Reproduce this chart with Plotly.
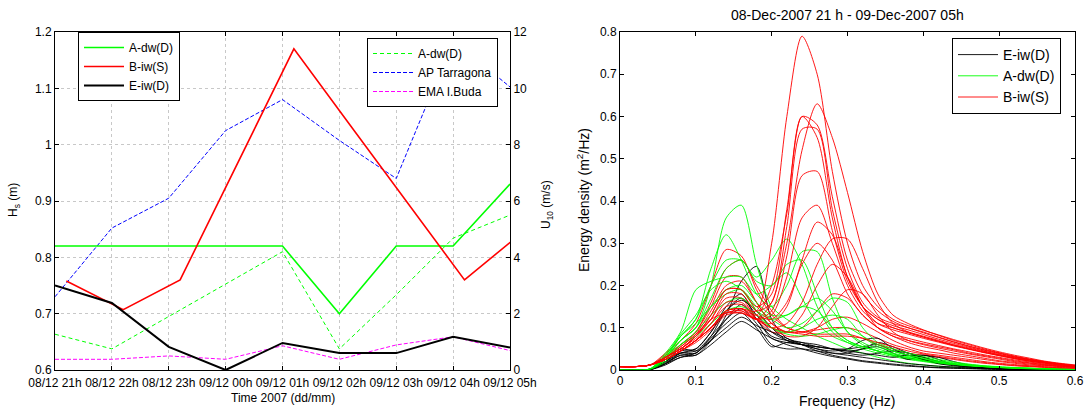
import plotly.graph_objects as go

# ---------------- Left panel data ----------------
HOURS = [0, 1, 2, 3, 4, 5, 6, 7, 8]
TIME_LABELS = ["08/12 21h", "08/12 22h", "08/12 23h", "09/12 00h", "09/12 01h",
               "09/12 02h", "09/12 03h", "09/12 04h", "09/12 05h"]
A_HS = [0.82, 0.82, 0.82, 0.82, 0.82, 0.70, 0.82, 0.82, 0.93]
B_TIME = [0.2, 1.2, 2.2, 3.2, 4.2, 5.2, 6.2, 7.2, 8.2]
B_HS = [0.758, 0.707, 0.76, 0.965, 1.17, 1.033, 0.897, 0.76, 0.843]
E_HS = [0.75, 0.719, 0.641, 0.60, 0.648, 0.63, 0.63, 0.659, 0.64]
A_U10 = [1.27, 0.75, 1.9, 3.05, 4.2, 0.75, 2.67, 4.68, 5.5]
AP_U10 = [2.6, 5.04, 6.1, 8.5, 9.6, 8.15, 6.8, 11.7, 10.05]
EMA_U10 = [0.38, 0.38, 0.5, 0.38, 0.86, 0.38, 0.89, 1.18, 0.69]

# ---------------- Right panel data ----------------
FREQ = [0.0, 0.02, 0.04, 0.06, 0.08, 0.10, 0.12, 0.14, 0.16, 0.18, 0.20, 0.22, 0.24,
        0.26, 0.28, 0.30, 0.32, 0.34, 0.36, 0.38, 0.40, 0.42, 0.44, 0.46, 0.48, 0.50,
        0.52, 0.54, 0.56, 0.58, 0.60]

SPEC_E = [
    [0, 0, 0.002, 0.015, 0.035, 0.035, 0.07, 0.13, 0.21, 0.245, 0.12, 0.075, 0.065, 0.055, 0.05, 0.05, 0.055, 0.06, 0.045, 0.035, 0.025, 0.018, 0.012, 0.008, 0.006, 0.004, 0.003, 0.002, 0.001, 0.001, 0],
    [0, 0, 0.002, 0.02, 0.045, 0.05, 0.09, 0.15, 0.18, 0.12, 0.08, 0.07, 0.065, 0.06, 0.05, 0.045, 0.05, 0.065, 0.055, 0.04, 0.03, 0.02, 0.014, 0.01, 0.007, 0.005, 0.003, 0.002, 0.001, 0.001, 0],
    [0, 0, 0.002, 0.025, 0.04, 0.04, 0.08, 0.14, 0.17, 0.13, 0.09, 0.07, 0.06, 0.05, 0.045, 0.05, 0.07, 0.075, 0.05, 0.035, 0.035, 0.03, 0.02, 0.012, 0.008, 0.005, 0.003, 0.002, 0.001, 0.001, 0],
    [0, 0, 0.001, 0.02, 0.05, 0.045, 0.07, 0.12, 0.155, 0.12, 0.075, 0.065, 0.06, 0.055, 0.05, 0.04, 0.035, 0.04, 0.045, 0.04, 0.03, 0.02, 0.014, 0.009, 0.006, 0.004, 0.003, 0.002, 0.001, 0, 0],
    [0, 0, 0.001, 0.015, 0.04, 0.045, 0.08, 0.12, 0.145, 0.11, 0.06, 0.05, 0.05, 0.045, 0.04, 0.04, 0.05, 0.055, 0.04, 0.025, 0.035, 0.025, 0.012, 0.007, 0.005, 0.003, 0.002, 0.001, 0.001, 0, 0],
    [0, 0, 0.001, 0.018, 0.035, 0.04, 0.075, 0.11, 0.135, 0.1, 0.055, 0.065, 0.06, 0.05, 0.04, 0.035, 0.03, 0.025, 0.02, 0.015, 0.012, 0.009, 0.007, 0.005, 0.004, 0.003, 0.002, 0.001, 0.001, 0, 0],
    [0, 0, 0.001, 0.015, 0.03, 0.04, 0.07, 0.1, 0.125, 0.105, 0.09, 0.075, 0.06, 0.045, 0.035, 0.028, 0.022, 0.018, 0.014, 0.011, 0.008, 0.006, 0.005, 0.004, 0.003, 0.002, 0.001, 0.001, 0, 0, 0],
    [0, 0, 0.002, 0.02, 0.04, 0.05, 0.09, 0.14, 0.165, 0.14, 0.1, 0.07, 0.06, 0.055, 0.05, 0.045, 0.04, 0.035, 0.03, 0.035, 0.025, 0.015, 0.01, 0.007, 0.005, 0.003, 0.002, 0.001, 0.001, 0, 0],
    [0, 0, 0.001, 0.012, 0.03, 0.035, 0.06, 0.09, 0.115, 0.095, 0.075, 0.06, 0.05, 0.04, 0.032, 0.026, 0.02, 0.016, 0.012, 0.009, 0.007, 0.005, 0.004, 0.003, 0.002, 0.001, 0.001, 0, 0, 0, 0],
]

SPEC_A = [
    [0, 0, 0.002, 0.03, 0.07, 0.1, 0.2, 0.36, 0.39, 0.25, 0.15, 0.12, 0.1, 0.08, 0.065, 0.05, 0.04, 0.03, 0.022, 0.016, 0.012, 0.009, 0.007, 0.005, 0.004, 0.003, 0.002, 0.002, 0.001, 0.001, 0.001],
    [0, 0, 0.002, 0.035, 0.08, 0.12, 0.24, 0.32, 0.26, 0.18, 0.15, 0.2, 0.28, 0.28, 0.17, 0.09, 0.06, 0.045, 0.035, 0.028, 0.022, 0.017, 0.013, 0.01, 0.008, 0.006, 0.005, 0.004, 0.003, 0.002, 0.002],
    [0, 0, 0.002, 0.03, 0.08, 0.12, 0.2, 0.26, 0.26, 0.22, 0.26, 0.31, 0.25, 0.15, 0.09, 0.065, 0.05, 0.04, 0.032, 0.025, 0.02, 0.015, 0.012, 0.009, 0.007, 0.005, 0.004, 0.003, 0.002, 0.002, 0.001],
    [0, 0, 0.002, 0.025, 0.07, 0.1, 0.17, 0.24, 0.26, 0.21, 0.2, 0.25, 0.26, 0.18, 0.1, 0.07, 0.055, 0.045, 0.035, 0.028, 0.022, 0.017, 0.013, 0.01, 0.008, 0.006, 0.004, 0.003, 0.002, 0.002, 0.001],
    [0, 0, 0.003, 0.04, 0.09, 0.19, 0.21, 0.22, 0.22, 0.18, 0.2, 0.23, 0.17, 0.11, 0.08, 0.065, 0.055, 0.045, 0.038, 0.03, 0.024, 0.018, 0.014, 0.011, 0.008, 0.006, 0.005, 0.004, 0.003, 0.002, 0.001],
    [0, 0, 0.002, 0.03, 0.07, 0.1, 0.15, 0.19, 0.2, 0.16, 0.13, 0.13, 0.15, 0.17, 0.14, 0.09, 0.065, 0.05, 0.04, 0.032, 0.025, 0.019, 0.015, 0.011, 0.008, 0.006, 0.005, 0.004, 0.003, 0.002, 0.001],
    [0, 0, 0.002, 0.03, 0.08, 0.11, 0.15, 0.18, 0.19, 0.15, 0.12, 0.1, 0.11, 0.14, 0.17, 0.16, 0.1, 0.065, 0.05, 0.04, 0.032, 0.025, 0.019, 0.014, 0.01, 0.008, 0.006, 0.004, 0.003, 0.002, 0.001],
    [0, 0, 0.002, 0.025, 0.06, 0.09, 0.13, 0.16, 0.17, 0.14, 0.12, 0.13, 0.15, 0.14, 0.1, 0.07, 0.055, 0.045, 0.035, 0.028, 0.022, 0.017, 0.013, 0.01, 0.008, 0.006, 0.004, 0.003, 0.002, 0.002, 0.001],
    [0, 0, 0.002, 0.02, 0.06, 0.08, 0.11, 0.14, 0.15, 0.13, 0.1, 0.09, 0.1, 0.12, 0.13, 0.12, 0.08, 0.055, 0.045, 0.035, 0.027, 0.02, 0.015, 0.011, 0.008, 0.006, 0.004, 0.003, 0.002, 0.002, 0.001],
    [0, 0, 0.003, 0.035, 0.085, 0.13, 0.19, 0.21, 0.19, 0.14, 0.1, 0.085, 0.08, 0.085, 0.095, 0.1, 0.08, 0.06, 0.045, 0.035, 0.028, 0.022, 0.017, 0.013, 0.01, 0.007, 0.005, 0.004, 0.003, 0.002, 0.001],
]

SPEC_B = [
    [0.008, 0.008, 0.012, 0.04, 0.07, 0.11, 0.2, 0.285, 0.27, 0.19, 0.13, 0.1, 0.09, 0.085, 0.085, 0.085, 0.075, 0.06, 0.05, 0.04, 0.035, 0.03, 0.025, 0.02, 0.016, 0.013, 0.01, 0.008, 0.006, 0.005, 0.004],
    [0.008, 0.008, 0.012, 0.035, 0.06, 0.09, 0.16, 0.24, 0.26, 0.2, 0.14, 0.1, 0.09, 0.095, 0.1, 0.1, 0.09, 0.075, 0.06, 0.05, 0.04, 0.035, 0.03, 0.025, 0.02, 0.016, 0.013, 0.01, 0.008, 0.006, 0.005],
    [0.008, 0.008, 0.012, 0.03, 0.06, 0.09, 0.15, 0.22, 0.22, 0.16, 0.11, 0.09, 0.09, 0.1, 0.12, 0.125, 0.11, 0.09, 0.07, 0.055, 0.045, 0.04, 0.035, 0.03, 0.025, 0.02, 0.016, 0.012, 0.01, 0.008, 0.006],
    [0.008, 0.008, 0.012, 0.03, 0.055, 0.085, 0.14, 0.2, 0.21, 0.16, 0.11, 0.09, 0.1, 0.14, 0.18, 0.17, 0.13, 0.1, 0.08, 0.065, 0.055, 0.048, 0.04, 0.034, 0.028, 0.022, 0.018, 0.014, 0.011, 0.009, 0.007],
    [0.008, 0.008, 0.012, 0.03, 0.05, 0.08, 0.13, 0.19, 0.19, 0.14, 0.1, 0.08, 0.08, 0.1, 0.15, 0.19, 0.18, 0.13, 0.09, 0.07, 0.06, 0.052, 0.045, 0.038, 0.032, 0.026, 0.02, 0.016, 0.012, 0.009, 0.007],
    [0.008, 0.008, 0.012, 0.03, 0.05, 0.08, 0.12, 0.17, 0.17, 0.12, 0.09, 0.09, 0.13, 0.2, 0.25, 0.22, 0.15, 0.1, 0.08, 0.07, 0.062, 0.055, 0.048, 0.04, 0.034, 0.028, 0.022, 0.017, 0.013, 0.01, 0.008],
    [0.008, 0.008, 0.012, 0.025, 0.045, 0.07, 0.11, 0.15, 0.155, 0.12, 0.1, 0.11, 0.16, 0.25, 0.31, 0.31, 0.24, 0.16, 0.11, 0.09, 0.078, 0.068, 0.058, 0.05, 0.042, 0.034, 0.027, 0.021, 0.016, 0.012, 0.009],
    [0.008, 0.008, 0.012, 0.025, 0.045, 0.07, 0.1, 0.14, 0.145, 0.12, 0.11, 0.15, 0.26, 0.35, 0.32, 0.22, 0.15, 0.11, 0.095, 0.085, 0.075, 0.066, 0.057, 0.049, 0.041, 0.034, 0.027, 0.021, 0.016, 0.012, 0.009],
    [0.008, 0.008, 0.012, 0.025, 0.045, 0.07, 0.1, 0.135, 0.14, 0.12, 0.13, 0.22, 0.36, 0.39, 0.3, 0.2, 0.14, 0.11, 0.1, 0.088, 0.078, 0.068, 0.059, 0.05, 0.042, 0.035, 0.028, 0.022, 0.017, 0.013, 0.01],
    [0.008, 0.008, 0.012, 0.025, 0.045, 0.065, 0.095, 0.13, 0.135, 0.12, 0.14, 0.27, 0.46, 0.47, 0.33, 0.21, 0.15, 0.12, 0.1, 0.09, 0.08, 0.07, 0.06, 0.052, 0.044, 0.036, 0.029, 0.023, 0.018, 0.014, 0.01],
    [0.008, 0.008, 0.012, 0.03, 0.05, 0.08, 0.12, 0.18, 0.18, 0.14, 0.16, 0.34, 0.57, 0.57, 0.38, 0.24, 0.16, 0.125, 0.11, 0.1, 0.088, 0.077, 0.066, 0.056, 0.047, 0.039, 0.031, 0.025, 0.019, 0.014, 0.01],
    [0.008, 0.008, 0.012, 0.03, 0.05, 0.08, 0.13, 0.19, 0.19, 0.15, 0.18, 0.38, 0.6, 0.55, 0.36, 0.22, 0.15, 0.12, 0.105, 0.095, 0.084, 0.073, 0.063, 0.054, 0.045, 0.037, 0.03, 0.024, 0.018, 0.014, 0.01],
    [0.008, 0.008, 0.012, 0.025, 0.045, 0.07, 0.1, 0.14, 0.145, 0.13, 0.2, 0.37, 0.6, 0.58, 0.41, 0.26, 0.18, 0.14, 0.115, 0.1, 0.09, 0.078, 0.067, 0.057, 0.048, 0.04, 0.032, 0.025, 0.019, 0.014, 0.01],
    [0.008, 0.008, 0.012, 0.025, 0.045, 0.07, 0.1, 0.135, 0.14, 0.12, 0.16, 0.3, 0.52, 0.63, 0.55, 0.42, 0.28, 0.18, 0.13, 0.11, 0.095, 0.082, 0.07, 0.06, 0.05, 0.041, 0.033, 0.026, 0.02, 0.015, 0.011],
    [0.008, 0.008, 0.012, 0.025, 0.045, 0.07, 0.1, 0.14, 0.145, 0.14, 0.3, 0.6, 0.79, 0.7, 0.47, 0.3, 0.2, 0.15, 0.12, 0.105, 0.094, 0.083, 0.072, 0.062, 0.052, 0.043, 0.035, 0.028, 0.021, 0.016, 0.012],
    [0.008, 0.008, 0.012, 0.03, 0.055, 0.085, 0.12, 0.135, 0.135, 0.12, 0.1, 0.09, 0.085, 0.08, 0.08, 0.08, 0.075, 0.065, 0.055, 0.045, 0.038, 0.032, 0.027, 0.022, 0.018, 0.014, 0.011, 0.009, 0.007, 0.005, 0.004],
    [0.008, 0.008, 0.012, 0.03, 0.05, 0.075, 0.11, 0.16, 0.16, 0.13, 0.12, 0.16, 0.25, 0.3, 0.26, 0.18, 0.13, 0.1, 0.085, 0.075, 0.066, 0.058, 0.05, 0.043, 0.036, 0.03, 0.024, 0.019, 0.014, 0.011, 0.008],
]

FONT = "Liberation Sans, Arial, sans-serif"
W, H = 1086, 412
LX0, LX1 = 55 / W, 510 / W
RX0, RX1 = 620 / W, 1075 / W
Y0, Y1 = 1 - 370 / H, 1 - 32 / H

fig = go.Figure()

# Left panel: wind (base axis y, right side) - dashed thin lines
fig.add_trace(go.Scatter(x=HOURS, y=A_U10, mode="lines", name="A-dw(D)",
                         line=dict(color="#00ff00", width=1, dash="4px,3px"),
                         xaxis="x", yaxis="y", legend="legend2"))
fig.add_trace(go.Scatter(x=HOURS, y=AP_U10, mode="lines", name="AP Tarragona",
                         line=dict(color="#0000ff", width=1, dash="4px,2px"),
                         xaxis="x", yaxis="y", legend="legend2"))
fig.add_trace(go.Scatter(x=HOURS, y=EMA_U10, mode="lines", name="EMA I.Buda",
                         line=dict(color="#ff00ff", width=1, dash="4px,2px"),
                         xaxis="x", yaxis="y", legend="legend2"))

# Left panel: Hs (overlay axis y2, left side) - solid lines
fig.add_trace(go.Scatter(x=HOURS, y=A_HS, mode="lines", name="A-dw(D)",
                         line=dict(color="#00ff00", width=1.6),
                         xaxis="x", yaxis="y2", legend="legend"))
fig.add_trace(go.Scatter(x=B_TIME, y=B_HS, mode="lines", name="B-iw(S)",
                         line=dict(color="#ff0000", width=1.6),
                         xaxis="x", yaxis="y2", legend="legend"))
fig.add_trace(go.Scatter(x=HOURS, y=E_HS, mode="lines", name="E-iw(D)",
                         line=dict(color="#000000", width=2),
                         xaxis="x", yaxis="y2", legend="legend"))

# Right panel spectra, interleaved E, A, B
groups = [("E-iw(D)", "#000000", SPEC_E), ("A-dw(D)", "#00ff00", SPEC_A), ("B-iw(S)", "#ff0000", SPEC_B)]
nmax = max(len(g[2]) for g in groups)
shown = set()
for i in range(nmax):
    for name, color, specs in groups:
        if i < len(specs):
            fig.add_trace(go.Scatter(
                x=FREQ, y=specs[i], mode="lines", name=name,
                line=dict(color=color, width=0.9, shape="spline", smoothing=0.8),
                xaxis="x2", yaxis="y3", legend="legend3", legendgroup=name,
                showlegend=name not in shown))
            shown.add(name)

axis_common = dict(showline=True, linecolor="black", linewidth=1, ticks="inside",
                   ticklen=4, tickcolor="black", tickfont=dict(size=12, color="black"),
                   zeroline=False, automargin=False)

fig.update_layout(
    width=W, height=H, margin=dict(l=0, r=0, t=0, b=0, autoexpand=False),
    paper_bgcolor="white", plot_bgcolor="white",
    font=dict(family=FONT, size=12, color="black"),
    xaxis=dict(domain=[LX0, LX1], anchor="y", range=[0, 8], tickmode="array",
               tickvals=HOURS, ticktext=TIME_LABELS, tickangle=0, mirror="ticks",
               showgrid=True, gridcolor="#c8c8c8", griddash="dot", gridwidth=1,
               ticklabelstandoff=2, **axis_common),
    yaxis=dict(domain=[Y0, Y1], anchor="x", side="right", range=[0, 12],
               tickmode="array", tickvals=[0, 2, 4, 6, 8, 10, 12],
               showgrid=True, gridcolor="#c8c8c8", griddash="dot", gridwidth=1,
               **axis_common),
    yaxis2=dict(domain=[Y0, Y1], anchor="x", overlaying="y", side="left",
                range=[0.6, 1.2], tickmode="array",
                tickvals=[0.6, 0.7, 0.8, 0.9, 1.0, 1.1, 1.2],
                ticktext=["0.6", "0.7", "0.8", "0.9", "1", "1.1", "1.2"],
                showgrid=False, **axis_common),
    xaxis2=dict(domain=[RX0, RX1], anchor="y3", range=[0, 0.6], tickmode="array",
                tickvals=[0, 0.1, 0.2, 0.3, 0.4, 0.5, 0.6],
                ticktext=["0", "0.1", "0.2", "0.3", "0.4", "0.5", "0.6"],
                mirror="ticks", showgrid=False, **axis_common),
    yaxis3=dict(domain=[Y0, Y1], anchor="x2", range=[0, 0.8], tickmode="array",
                tickvals=[0, 0.1, 0.2, 0.3, 0.4, 0.5, 0.6, 0.7, 0.8],
                ticktext=["0", "0.1", "0.2", "0.3", "0.4", "0.5", "0.6", "0.7", "0.8"],
                mirror="ticks", showgrid=False, **axis_common),
    legend=dict(x=78 / W, y=1 - 32 / H, xanchor="left", yanchor="top",
                bgcolor="white", bordercolor="black", borderwidth=1,
                font=dict(size=12), traceorder="normal", itemwidth=40),
    legend2=dict(x=367 / W, y=1 - 38 / H, xanchor="left", yanchor="top",
                 bgcolor="white", bordercolor="black", borderwidth=1,
                 font=dict(size=12), traceorder="normal", itemwidth=40),
    legend3=dict(x=952 / W, y=1 - 38 / H, xanchor="left", yanchor="top",
                 bgcolor="white", bordercolor="black", borderwidth=1,
                 font=dict(size=14), traceorder="normal", itemwidth=40),
    showlegend=True,
)

annotations = [
    dict(text="H<sub>s</sub> (m)", x=14 / W, y=1 - 200 / H, textangle=-90,
         font=dict(size=12)),
    dict(text="U<sub>10</sub> (m/s)", x=547 / W, y=1 - 205 / H, textangle=-90,
         font=dict(size=12)),
    dict(text="Time 2007 (dd/mm)", x=283 / W, y=1 - 398 / H, font=dict(size=12)),
    dict(text="Energy density (m<sup>2</sup>/Hz)", x=583 / W, y=1 - 200 / H,
         textangle=-90, font=dict(size=14)),
    dict(text="Frequency (Hz)", x=847 / W, y=1 - 401 / H, font=dict(size=14)),
    dict(text="08-Dec-2007 21 h - 09-Dec-2007 05h", x=847 / W, y=1 - 15 / H,
         font=dict(size=14)),
]
for a in annotations:
    a.update(xref="paper", yref="paper", xanchor="center", yanchor="middle",
             showarrow=False)
fig.update_layout(annotations=annotations)

fig.write_html("out.html")
